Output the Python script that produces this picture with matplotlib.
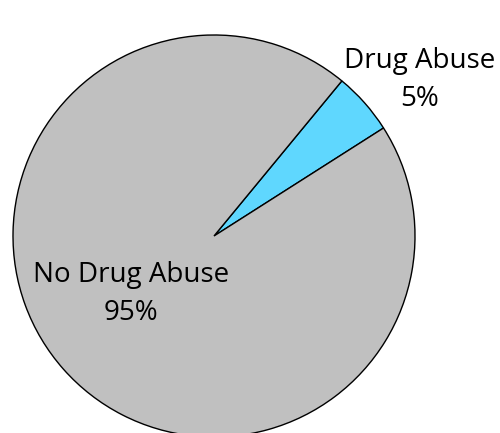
import matplotlib
matplotlib.use("Agg")
import matplotlib.pyplot as plt

# data
labels = ["Drug Abuse", "No Drug Abuse"]
values = [5, 95]
colors = ["#5FD7FE", "#C0C0C0"]

plt.rcParams['font.family'] = ['Open Sans', 'DejaVu Sans']

fig = plt.figure(figsize=(5, 4.33), dpi=100)
ax = fig.add_axes([0, 0, 1, 1])

ax.pie(values, colors=colors, startangle=32.5, counterclock=True,
       center=(214, 197), radius=201,
       wedgeprops=dict(edgecolor="black", linewidth=1))

ax.set_xlim(0, 500)
ax.set_ylim(0, 433)
ax.set_aspect("equal")
ax.axis("off")

total = sum(values)
pct = ["%d%%" % round(v * 100 / total) for v in values]

ax.text(420, 353, labels[0] + "\n" + pct[0], ha="center", va="center",
        fontsize=20, linespacing=1.45)
ax.text(131, 139, labels[1] + "\n" + pct[1], ha="center", va="center",
        fontsize=20, linespacing=1.45)

fig.savefig("out.png", dpi=100)
